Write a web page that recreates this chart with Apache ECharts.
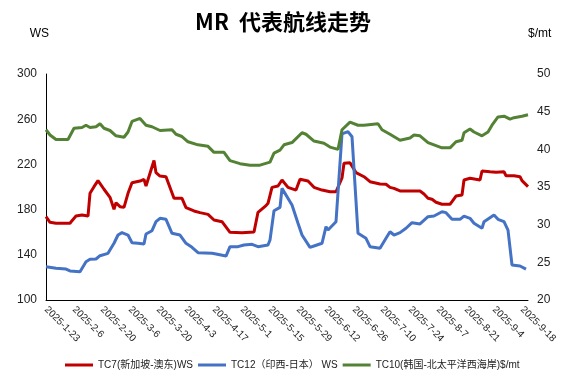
<!DOCTYPE html>
<html>
<head>
<meta charset="utf-8">
<script src="https://cdn.jsdelivr.net/npm/echarts@6/dist/echarts.min.js"></script>
<style>html,body{margin:0;padding:0;background:#fff}#c{width:566px;height:385px}</style>
</head>
<body>
<div id="c"></div>
<script>
const xTickLabels = ['2025-1-23','2025-2-6','2025-2-20','2025-3-6','2025-3-20','2025-4-3','2025-4-17','2025-5-1','2025-5-15','2025-5-29','2025-6-12','2025-6-26','2025-7-10','2025-7-24','2025-8-7','2025-8-21','2025-9-4','2025-9-18'];
const seriesNames = ['TC7(新加坡-澳东)WS','TC12（印西-日本） WS','TC10(韩国-北太平洋西海岸)$/mt'];

const tc7Dates = ['2025-1-23','2025-1-25','2025-1-28','2025-2-4','2025-2-5','2025-2-7','2025-2-10','2025-2-13','2025-2-14','2025-2-16','2025-2-18','2025-2-21','2025-2-24','2025-2-26','2025-2-27','2025-3-1','2025-3-3','2025-3-5','2025-3-7','2025-3-11','2025-3-13','2025-3-14','2025-3-18','2025-3-19','2025-3-21','2025-3-24','2025-3-28','2025-4-1','2025-4-3','2025-4-7','2025-4-10','2025-4-14','2025-4-17','2025-4-21','2025-4-25','2025-5-1','2025-5-7','2025-5-9','2025-5-13','2025-5-14','2025-5-16','2025-5-19','2025-5-21','2025-5-24','2025-5-28','2025-5-30','2025-6-3','2025-6-6','2025-6-10','2025-6-14','2025-6-17','2025-6-20','2025-6-21','2025-6-24','2025-6-25','2025-6-27','2025-7-1','2025-7-4','2025-7-9','2025-7-12','2025-7-14','2025-7-16','2025-7-19','2025-7-29','2025-7-31','2025-8-2','2025-8-4','2025-8-6','2025-8-9','2025-8-13','2025-8-14','2025-8-16','2025-8-19','2025-8-20','2025-8-23','2025-8-28','2025-8-29','2025-9-2','2025-9-5','2025-9-9','2025-9-10','2025-9-14','2025-9-17','2025-9-18','2025-9-21'];
const tc7Values = [173.7,168.8,167.9,167.9,170.2,174.3,175.2,174.3,194.4,200.3,205.6,198,190.9,180.3,186.1,182.6,182.0,194.4,203.8,205.3,206.8,200.9,223.5,212.7,209.7,209.1,190,190,181.7,178.8,177.3,175.8,170.8,169.3,159.9,159.6,160.2,177.6,183.5,185.6,199.7,200.9,206.2,199.7,197.3,206.8,205.3,199.7,197.3,195.8,195.8,208,221,221.5,222.4,212.7,209.1,204.7,202.7,202.4,199.7,198.8,196.5,196.5,193.8,190,189.1,186.5,184.7,184.7,187,192,192.9,206.2,207.7,206.2,214.2,213.5,213,213.5,210,210,209.1,205.6,200.3];

const tc12Dates = ['2025-1-23','2025-1-28','2025-2-2','2025-2-4','2025-2-9','2025-2-12','2025-2-14','2025-2-17','2025-2-19','2025-2-23','2025-2-26','2025-2-28','2025-3-2','2025-3-5','2025-3-7','2025-3-10','2025-3-13','2025-3-14','2025-3-17','2025-3-19','2025-3-21','2025-3-24','2025-3-27','2025-3-31','2025-4-3','2025-4-6','2025-4-9','2025-4-16','2025-4-18','2025-4-23','2025-4-25','2025-4-29','2025-5-2','2025-5-6','2025-5-9','2025-5-14','2025-5-15','2025-5-17','2025-5-20','2025-5-21','2025-5-26','2025-5-29','2025-5-31','2025-6-4','2025-6-6','2025-6-10','2025-6-12','2025-6-13','2025-6-17','2025-6-20','2025-6-23','2025-6-24','2025-6-25','2025-6-28','2025-7-2','2025-7-4','2025-7-9','2025-7-12','2025-7-14','2025-7-16','2025-7-19','2025-7-22','2025-7-25','2025-7-29','2025-8-2','2025-8-5','2025-8-9','2025-8-11','2025-8-14','2025-8-18','2025-8-20','2025-8-23','2025-8-25','2025-8-29','2025-8-30','2025-9-4','2025-9-6','2025-9-9','2025-9-11','2025-9-13','2025-9-17','2025-9-20'];
const tc12Values = [129.5,128.1,127.4,125.7,125,133.9,136,136.3,139.2,141.3,150.2,157.5,159.6,157.5,150.7,150.2,149.6,158.4,161.3,169.3,172.3,171.4,159,157.5,150.2,146.6,141.9,141.3,140.7,138.9,147.2,147.2,148.7,149.3,147.2,148.7,153.1,179,182,198.8,184.1,167.9,157.5,146.6,147.8,150.2,164.9,161.9,169.3,247,249,250.5,244.5,159,154.6,147.2,145.8,154.6,160.4,157.5,159.6,163.5,168.4,167.3,173.7,174.3,178.1,177.3,171.4,171.4,174.3,172.3,167.9,163.5,169.3,175.2,171.4,169.3,161.9,131,130.1,127.4];

const tc10Dates = ['2025-1-23','2025-1-25','2025-1-28','2025-2-3','2025-2-6','2025-2-10','2025-2-12','2025-2-14','2025-2-17','2025-2-19','2025-2-21','2025-2-24','2025-2-27','2025-3-3','2025-3-5','2025-3-7','2025-3-11','2025-3-12','2025-3-14','2025-3-17','2025-3-21','2025-3-27','2025-3-29','2025-4-1','2025-4-4','2025-4-9','2025-4-14','2025-4-17','2025-4-22','2025-4-25','2025-4-30','2025-5-5','2025-5-10','2025-5-15','2025-5-17','2025-5-20','2025-5-22','2025-5-26','2025-5-31','2025-6-2','2025-6-6','2025-6-11','2025-6-14','2025-6-18','2025-6-20','2025-6-24','2025-6-28','2025-7-1','2025-7-8','2025-7-10','2025-7-14','2025-7-19','2025-7-24','2025-7-26','2025-7-29','2025-8-2','2025-8-5','2025-8-9','2025-8-13','2025-8-16','2025-8-19','2025-8-20','2025-8-23','2025-8-25','2025-8-29','2025-9-1','2025-9-3','2025-9-6','2025-9-9','2025-9-12','2025-9-14','2025-9-18','2025-9-21'];
const tc10Values = [42.6,41.9,41.3,41.3,42.8,42.9,43.2,42.9,43.0,43.4,42.8,42.5,41.8,41.6,42.3,43.7,44.1,43.9,43.2,43.0,42.5,42.6,42.0,41.7,41.0,40.6,40.4,39.6,39.6,38.5,38.1,37.9,37.9,38.3,39.5,39.9,40.6,40.9,42.2,42.0,41.1,40.8,40.3,40.0,42.6,43.6,43.2,43.2,43.4,42.6,42.0,41.2,41.5,41.9,41.8,40.9,40.6,40.2,40.2,41.0,41.2,42.2,42.7,42.3,41.8,42.3,43.2,44.3,44.4,44.0,44.2,44.4,44.6];

const base = Date.UTC(2025, 0, 23);
function dayOf(s) {
  const p = s.split('-').map(Number);
  return Math.round((Date.UTC(p[0], p[1] - 1, p[2]) - base) / 86400000);
}
function pairs(dates, vals) { return dates.map((d, i) => [dayOf(d), vals[i]]); }

const FONT = 'Liberation Sans, "Noto Sans CJK SC", sans-serif';
const chart = echarts.init(document.getElementById('c'), null, {renderer: 'canvas'});
chart.setOption({
  animation: false,
  title: {
    text: 'MR  代表航线走势', left: 'center', top: 6,
    textStyle: {fontSize: 22, fontWeight: 'bold', color: '#000', fontFamily: '"Noto Sans CJK SC", sans-serif'}
  },
  grid: {left: 46, right: 38, top: 74, bottom: 85},
  legend: {
    top: 355, left: 60, icon: 'rect', itemWidth: 28, itemHeight: 3, itemGap: 5,
    textStyle: {fontSize: 10, color: '#222', fontFamily: FONT},
    data: seriesNames
  },
  xAxis: {
    type: 'value', min: 0, max: 241, interval: 14,
    axisLine: {show: true, lineStyle: {color: '#000', width: 1}},
    axisTick: {show: false}, splitLine: {show: false},
    axisLabel: {
      rotate: -45, fontSize: 10, color: '#222', fontFamily: FONT, margin: 8,
      showMaxLabel: false,
      formatter: v => (v % 14 === 0 && xTickLabels[v / 14]) ? xTickLabels[v / 14] : ''
    }
  },
  yAxis: [
    {
      type: 'value', min: 100, max: 300, interval: 40, name: 'WS',
      nameLocation: 'end', nameGap: 34, nameTextStyle: {fontSize: 12, color: '#000', fontFamily: FONT, align: 'right', padding: [0, -3, 0, 0]},
      axisLine: {show: true, lineStyle: {color: '#000', width: 1}},
      axisTick: {show: false}, splitLine: {show: false},
      axisLabel: {fontSize: 12, color: '#222', fontFamily: FONT, margin: 9}
    },
    {
      type: 'value', min: 20, max: 50, interval: 5, name: '$/mt',
      nameLocation: 'end', nameGap: 34, nameTextStyle: {fontSize: 12, color: '#000', fontFamily: FONT, align: 'left'},
      axisLine: {show: false}, axisTick: {show: false}, splitLine: {show: false},
      axisLabel: {fontSize: 12, color: '#222', fontFamily: FONT, margin: 9}
    }
  ],
  series: [
    {name: seriesNames[0], type: 'line', yAxisIndex: 0, data: pairs(tc7Dates, tc7Values), showSymbol: false, lineStyle: {color: '#C00000', width: 3}, itemStyle: {color: '#C00000'}},
    {name: seriesNames[1], type: 'line', yAxisIndex: 0, data: pairs(tc12Dates, tc12Values), showSymbol: false, lineStyle: {color: '#4472C4', width: 3}, itemStyle: {color: '#4472C4'}},
    {name: seriesNames[2], type: 'line', yAxisIndex: 1, data: pairs(tc10Dates, tc10Values), showSymbol: false, lineStyle: {color: '#548235', width: 3}, itemStyle: {color: '#548235'}}
  ]
});
</script>
</body>
</html>
